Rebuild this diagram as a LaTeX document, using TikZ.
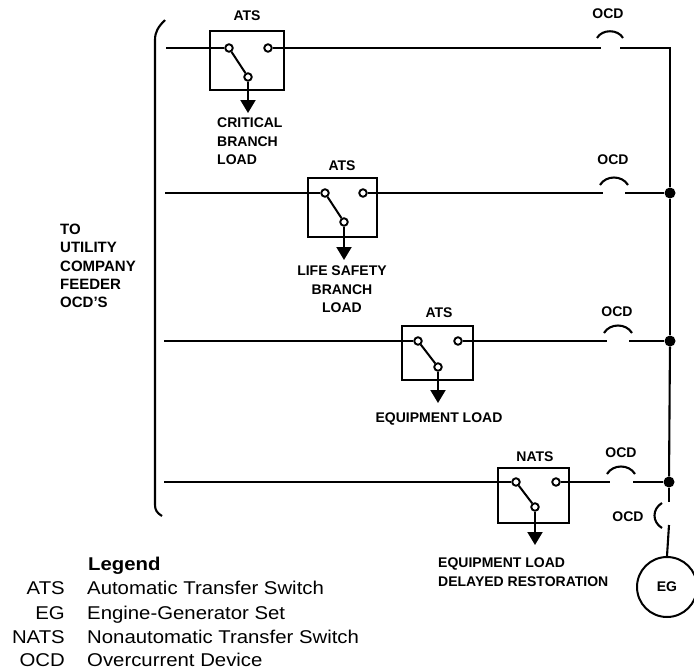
\documentclass[tikz,border=0pt]{standalone}
\usepackage{fontspec}
\setmainfont{Liberation Sans}
\newfontfamily\legfont[FakeStretch=1.1]{Liberation Sans}
\usetikzlibrary{arrows.meta}
\begin{document}
\begin{tikzpicture}[x=1pt,y=-1pt,
  wire/.style={line width=2.1pt},
  swbox/.style={draw,line width=2.3pt,fill=none,inner sep=0pt},
  contact/.style={circle,draw,fill=white,inner sep=0pt,minimum size=7.5pt,line width=1.9pt},
  lab/.style={font=\bfseries\fontsize{14}{18.5}\selectfont,inner sep=0pt,align=center},
  labl/.style={lab,align=left},
  leg/.style={font=\legfont\fontsize{18.5}{24}\selectfont,inner sep=0pt},
  dot/.style={circle,fill=black,inner sep=0pt,minimum size=11pt},
  ocdarc/.style={line width=2.1pt},
  load/.style={line width=2.1pt,-{Triangle[width=15pt,length=13pt]}}
]
\useasboundingbox (0,0) rectangle (694,670);
% bracket
\draw[wire] (165,20) .. controls (158,27) and (155,32) .. (155,40) -- (155,505) .. controls (155,510) and (157,513) .. (162,516);
% right bus junction points
\coordinate (c1) at (670,48);
\node[dot] (d2) at (670,193) {};
\node[dot] (d3) at (670,341) {};
\node[dot] (d4) at (669,482) {};
\coordinate (g1) at (669,502);
\coordinate (g2) at (669,525);
% row starts
\coordinate (s1) at (166,48);
\coordinate (s2) at (165,193);
\coordinate (s3) at (164,341);
\coordinate (s4) at (164,482);
% OCD gap points
\coordinate (o1a) at (601,48); \coordinate (o1b) at (620,48);
\coordinate (o2a) at (603,193); \coordinate (o2b) at (625,193);
\coordinate (o3a) at (607,341); \coordinate (o3b) at (629,341);
\coordinate (o4a) at (610,482); \coordinate (o4b) at (633,482);
% boxes
\node[swbox,minimum width=74pt,minimum height=59pt] (b1) at (247,60.5) {};
\node[swbox,minimum width=69pt,minimum height=59pt] (b2) at (342.5,207.5) {};
\node[swbox,minimum width=71pt,minimum height=54pt] (b3) at (437.5,353) {};
\node[swbox,minimum width=71pt,minimum height=55pt] (b4) at (533.5,495.5) {};
% contacts
\node[contact] (l1) at (229,48) {}; \node[contact] (r1) at (268,48) {}; \node[contact] (p1) at (248,77) {};
\node[contact] (l2) at (325,193) {}; \node[contact] (r2) at (363,193) {}; \node[contact] (p2) at (344,222) {};
\node[contact] (l3) at (418,341) {}; \node[contact] (r3) at (458,341) {}; \node[contact] (p3) at (438,367) {};
\node[contact] (l4) at (516,482) {}; \node[contact] (r4) at (556,482) {}; \node[contact] (p4) at (535,507) {};
% arrow tips
\coordinate (t1) at (248,113);
\coordinate (t2) at (344,260);
\coordinate (t3) at (438,403);
\coordinate (t4) at (535,545);
% wires
\draw[wire] (s1) -- (l1); \draw[wire] (r1) -- (o1a); \draw[wire] (o1b) -- (c1) -- (d2);
\draw[wire] (s2) -- (l2); \draw[wire] (r2) -- (o2a); \draw[wire] (o2b) -- (d2);
\draw[wire] (s3) -- (l3); \draw[wire] (r3) -- (o3a); \draw[wire] (o3b) -- (d3);
\draw[wire] (s4) -- (l4); \draw[wire] (r4) -- (o4a); \draw[wire] (o4b) -- (d4);
\draw[wire] (d2) -- (d3); \draw[wire] (d3) -- (d4); \draw[wire] (d4) -- (g1);
% switch blades
\foreach \i in {1,2,3,4} {
  \draw[line width=2pt] (l\i) -- (p\i);
  \draw[load] (p\i.south) -- (t\i);
}
% OCD arcs
\draw[ocdarc] (597,38) .. controls (602,29) and (618,29) .. (623,38);
\draw[ocdarc] (600,185) .. controls (606,175) and (622,175) .. (628,185);
\draw[ocdarc] (604,333) .. controls (610,323) and (626,323) .. (632,333);
\draw[ocdarc] (607,474) .. controls (613,464) and (629,464) .. (635,474);
\draw[ocdarc] (662,503) .. controls (652,509) and (652,522) .. (662,528);
% EG
\node[circle,draw,line width=2pt,minimum size=60pt,inner sep=0pt,anchor=north,font=\bfseries\fontsize{14}{16}\selectfont] (eg) at (667,556) {EG};
\draw[wire] (g2) -- (eg.north);
% labels
\node[lab] (ats1) at (247,16) {ATS};
\node[lab] (ats2) at (342,166) {ATS};
\node[lab] (ats3) at (439,313) {ATS};
\node[lab] (nats) at (535,457) {NATS};
\node[lab] (ocd1) at (608,14) {OCD};
\node[lab] (ocd2) at (613,160) {OCD};
\node[lab] (ocd3) at (617,312) {OCD};
\node[lab] (ocd4) at (621,453) {OCD};
\node[lab] (ocd5) at (628,517) {OCD};
\node[labl,anchor=north west] (crit) at (217,118) {CRITICAL\\BRANCH\\LOAD};
\node[lab,anchor=north] (life) at (342,266) {LIFE SAFETY\\BRANCH\\LOAD};
\node[lab] (eq) at (439,419) {EQUIPMENT LOAD};
\node[labl,anchor=north west] (eqd) at (438,558) {EQUIPMENT LOAD\\DELAYED RESTORATION};
\node[labl,anchor=north west,font=\bfseries\fontsize{15}{18.3}\selectfont] (util) at (60,224) {TO\\UTILITY\\COMPANY\\FEEDER\\OCD'S};
% legend
\node[leg,font=\legfont\bfseries\fontsize{18.5}{24}\selectfont,anchor=base west] (legt) at (88,570) {Legend};
\node[leg,anchor=base east] (k1) at (65,594) {ATS};
\node[leg,anchor=base east] (k2) at (65,619) {EG};
\node[leg,anchor=base east] (k3) at (65,643.5) {NATS};
\node[leg,anchor=base east] (k4) at (65,666.5) {OCD};
\node[leg,anchor=base west] (v1) at (87,594) {Automatic Transfer Switch};
\node[leg,anchor=base west] (v2) at (87,619) {Engine-Generator Set};
\node[leg,anchor=base west] (v3) at (87,643.5) {Nonautomatic Transfer Switch};
\node[leg,anchor=base west] (v4) at (87,666.5) {Overcurrent Device};
\end{tikzpicture}
\end{document}
